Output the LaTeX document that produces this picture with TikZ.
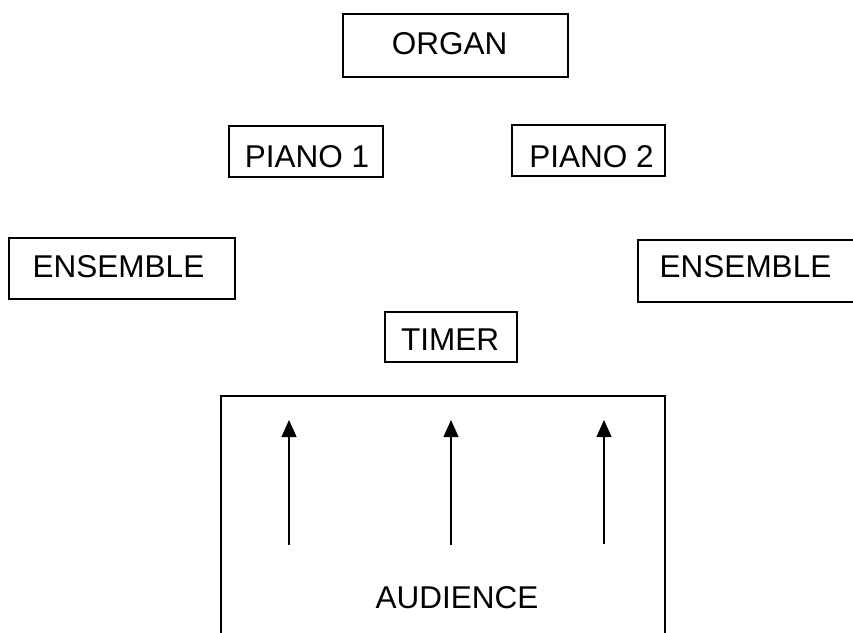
\documentclass[tikz,border=0pt]{standalone}
\usepackage{fontspec}
\setmainfont{Liberation Sans}
\usetikzlibrary{arrows.meta}
\begin{document}
\begin{tikzpicture}[x=1pt,y=-1pt,
  box/.style={draw=black, line width=1.3pt, rectangle, inner sep=0pt, fill=none},
  lbl/.style={anchor=base, inner sep=0pt, font=\fontsize{31.5}{36}\selectfont},
  arr/.style={line width=1.2pt, -{Triangle[width=15pt,length=17pt]}}]
\useasboundingbox (0,0) rectangle (853,632);
\clip (0,0) rectangle (853,632);
\fill[white] (0,0) rectangle (853,632);
% boxes
\node[box, minimum width=225pt, minimum height=63pt] (organbox) at (455.5,45.5) {};
\node[box, minimum width=154pt, minimum height=51pt] (piano1box) at (306,151.5) {};
\node[box, minimum width=153pt, minimum height=51pt] (piano2box) at (588.5,150.5) {};
\node[box, minimum width=226pt, minimum height=61pt] (ensLbox) at (122,268.5) {};
\node[box, minimum width=242pt, minimum height=62pt] (ensRbox) at (759,271) {};
\node[box, minimum width=132pt, minimum height=50pt] (timerbox) at (451,337) {};
\node[box, minimum width=444pt, minimum height=264pt] (audbox) at (443,528) {};
% labels
\node[lbl] (organ) at (449.5,54) {ORGAN};
\node[lbl] (piano1) at (307,167) {PIANO 1};
\node[lbl] (piano2) at (591.5,167) {PIANO 2};
\node[lbl] (ensL) at (118.5,277) {ENSEMBLE};
\node[lbl] (ensR) at (745.5,277) {ENSEMBLE};
\node[lbl] (timer) at (450,350) {TIMER};
\node[lbl] (aud) at (457,608) {AUDIENCE};
% arrows
\coordinate (a1b) at (289,545); \coordinate (a1t) at (289,420);
\coordinate (a2b) at (451,545); \coordinate (a2t) at (451,420);
\coordinate (a3b) at (604,544); \coordinate (a3t) at (604,420);
\draw[arr] (a1b) -- (a1t);
\draw[arr] (a2b) -- (a2t);
\draw[arr] (a3b) -- (a3t);
\end{tikzpicture}
\end{document}
